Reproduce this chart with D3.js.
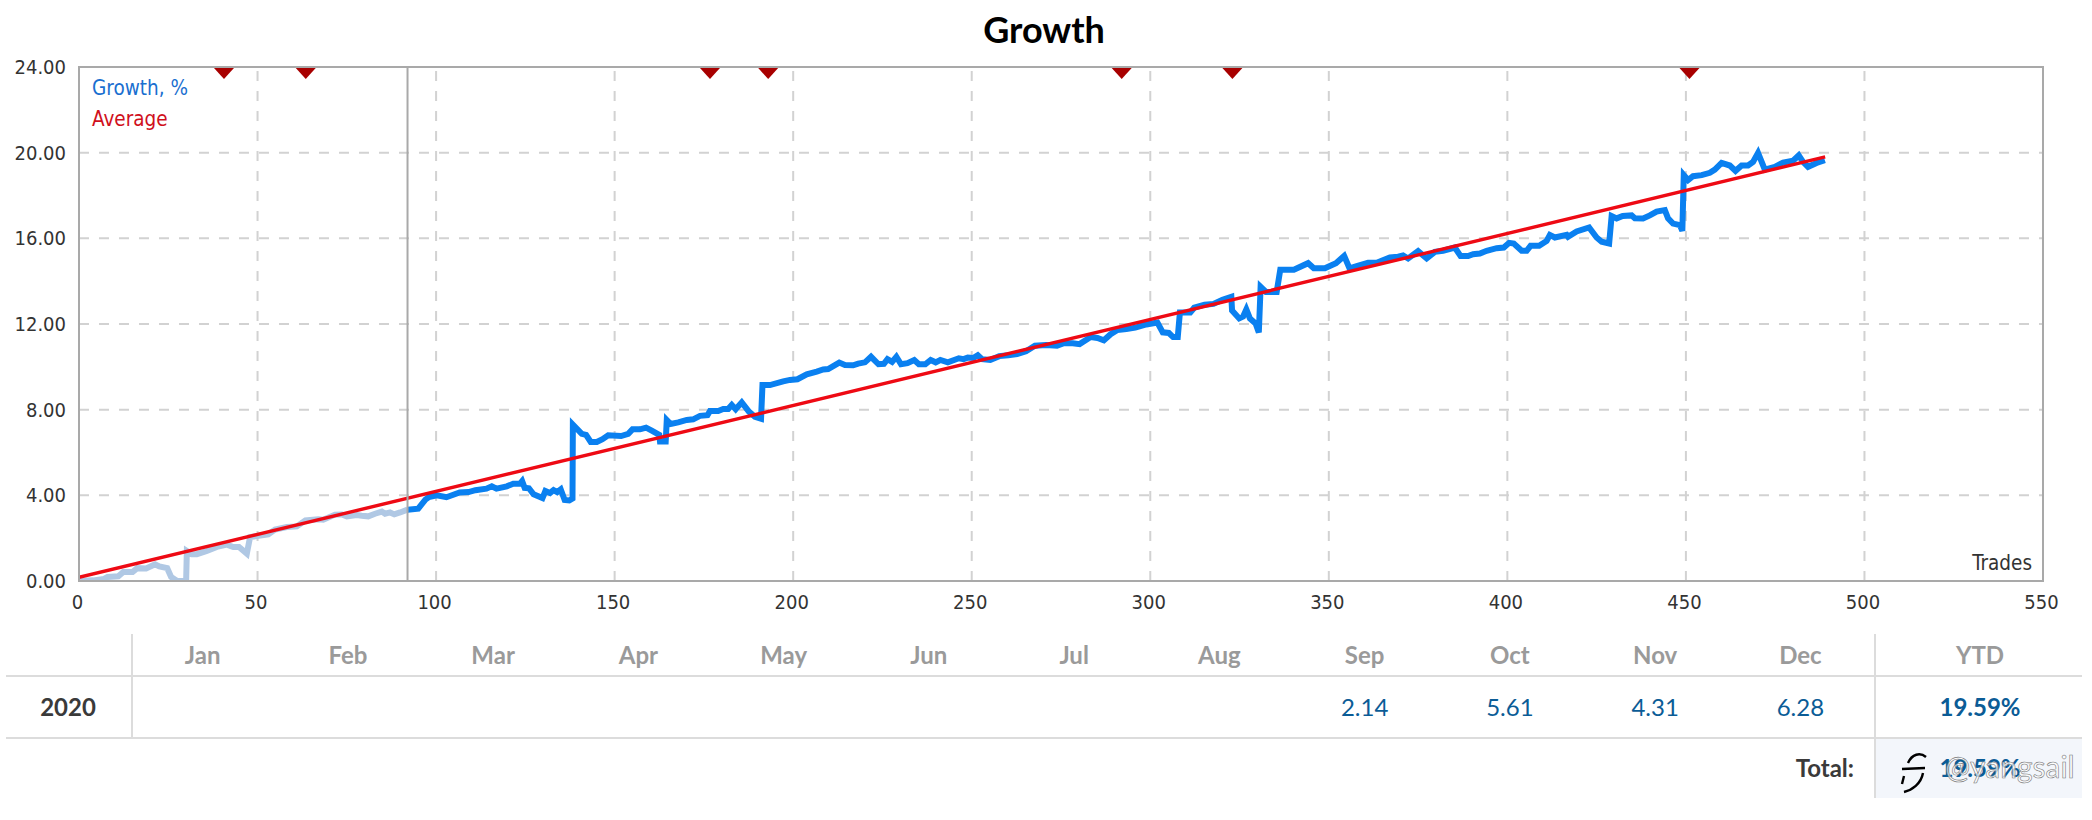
<!DOCTYPE html>
<html>
<head>
<meta charset="utf-8">
<script src="https://cdn.jsdelivr.net/npm/d3@7"></script>
<style>
  body { margin: 0; background: #fff; }
  text { font-family: "DejaVu Sans Condensed", "DejaVu Sans", sans-serif; font-stretch: condensed; }
  .tbl { font-family: Lato, sans-serif; font-stretch: normal; }
</style>
</head>
<body>
<svg id="grafico" width="2092" height="820"></svg>
<script>
// values
const growthTrades = [0,4,7,8,11,12.4,15,16.3,18.8,21.3,22.5,24.7,25.8,27.5,30,30.2,31.6,33,35.8,38.6,41.4,43.2,44.8,47,47.9,49.8,53,54.9,58.2,61,63.4,67,68.4,71.7,73.6,75,77.8,79.2,81,82.9,84.8,85.7,87.1,88.3,89.9,92,
  95,97,98,100.2,102.9,106.6,109.1,111,114.1,115.6,116.9,119.8,121.6,123.5,124.1,124.8,126,127.3,129.8,130.6,131.9,132.9,133.9,134.9,136,137.3,138.2,138.3,140.8,142,143.3,145,146.6,148.2,151.8,153.8,155,157.1,158.8,160.4,162.5,162.7,164.3,164.6,165.7,167.8,170.2,172,173.9,176,176.7,179,180.4,181.8,182.8,183.9,185.6,187.6,189.3,191,191.4,193.5,197.2,199.1,201.2,203.8,206.6,208.4,209.8,212.9,214.5,216.8,218.2,220.1,
  221.8,223.9,225.4,226.4,227.7,228.9,230.2,232,233.9,235.2,237,238.5,239.9,241.2,243.3,246.4,247.7,248.9,250.4,251.7,252.9,255.2,257.7,260.2,262.7,265.2,267.7,270.8,273.9,275.8,278.3,280.2,283.3,285.2,287,288.9,290.8,293.3,295.8,298.9,302,303.5,305.2,306.4,307.7,308.3,311.2,312.3,315.2,317.7,320.2,322.7,322.9,324.9,326,326.9,327.9,329.5,330.4,330.9,332.4,335.4,336.4,340.2,344.2,345.8,348.9,352,354.3,355.8,357.8,361,363.4,367.1,369.4,370.8,372.2,375,377.4,379.7,382,385.3,386.9,389,390.4,392.3,394.2,397,399,400.5,401.8,404,405.4,406.5,408.9,411,411.9,413.3,416.6,417,419.4,422.9,425,426.4,428.5,429.2,430.6,432.3,434.8,435.7,438,439.9,441.8,444.1,445,446.4,448.3,449,449.4,450.6,452,454.4,456.7,458.1,460,462.3,463.9,465.6,467.4,468.8,470.2,472.1,474.9,477.2,480,481.6,482.8,484.2,486.6,488.9];
const growthValues = [0,0.03,0.1,0.19,0.22,0.42,0.42,0.6,0.58,0.78,0.68,0.6,0.19,0,0,1.4,1.25,1.25,1.4,1.59,1.7,1.59,1.59,1.28,2.05,2.1,2.18,2.4,2.52,2.55,2.83,2.88,2.86,3.1,3.11,3.02,3.08,3.05,3.02,3.14,3.24,3.14,3.2,3.11,3.2,3.33,
  3.38,3.8,3.92,4,3.91,4.13,4.15,4.24,4.31,4.42,4.31,4.42,4.54,4.54,4.66,4.35,4.33,4.05,3.87,4.2,4.11,4.24,4.15,4.28,3.78,3.76,3.85,7.3,6.87,6.82,6.49,6.49,6.62,6.8,6.77,6.87,7.08,7.08,7.16,7.02,6.82,6.51,6.51,7.52,7.33,7.41,7.52,7.55,7.71,7.74,7.94,7.94,8.03,8.03,8.22,8.02,8.34,7.91,7.67,7.58,9.15,9.15,9.32,9.39,9.42,9.65,9.78,9.88,9.9,10.2,10.09,10.07,10.15,10.21,
  10.47,10.12,10.14,10.36,10.23,10.47,10.12,10.17,10.32,10.12,10.12,10.32,10.21,10.32,10.21,10.4,10.36,10.43,10.41,10.54,10.36,10.32,10.5,10.54,10.6,10.73,10.99,11.02,10.99,11.1,11.1,11.06,11.39,11.35,11.24,11.52,11.72,11.76,11.83,11.98,12.07,11.61,11.58,11.39,11.39,12.54,12.54,12.76,12.9,12.94,13.13,13.27,12.63,12.26,12.35,12.68,12.26,12.02,11.61,13.74,13.5,13.5,14.53,14.53,14.84,14.6,14.6,14.84,15.18,14.6,14.7,14.86,14.86,15.11,15.14,15.2,15.06,15.4,15.06,15.37,15.42,15.57,15.17,15.17,15.26,15.29,15.42,15.54,15.57,15.79,15.76,15.42,15.42,15.65,15.65,15.88,16.16,16.04,16.16,16.07,16.32,16.51,16.04,15.84,15.76,17.04,16.93,17.04,17.07,16.94,16.93,17.07,17.25,17.32,16.93,16.69,16.62,16.35,18.95,18.72,18.9,18.95,19.06,19.21,19.52,19.4,19.15,19.4,19.4,19.57,19.99,19.21,19.34,19.54,19.62,19.87,19.57,19.34,19.52,19.65];
const averageTrades = [0, 489];
const averageValues = [0.17, 19.8];
const markerTrades = [40.6, 63.5, 176.7, 193, 292, 323, 451];
const splitTrade = 92;
const xTicks = [0, 50, 100, 150, 200, 250, 300, 350, 400, 450, 500, 550];
const yTicks = [0, 4, 8, 12, 16, 20, 24];
const months = ["Jan","Feb","Mar","Apr","May","Jun","Jul","Aug","Sep","Oct","Nov","Dec"];
const monthValues = ["","","","","","","","","2.14","5.61","4.31","6.28"];
const year = "2020";
const ytd = "19.59%";
const total = "19.59%";

const svg = d3.select("#grafico");
const plotLeft = 79, plotRight = 2043, plotTop = 67, plotBottom = 581;

const x = d3.scaleLinear().domain([0, 550]).range([plotLeft, plotRight]);
const y = d3.scaleLinear().domain([0, 24]).range([plotBottom, plotTop]);

svg.append("text").text("Growth")
  .attr("class", "tbl")
  .attr("x", 1044).attr("y", 43)
  .attr("text-anchor", "middle")
  .attr("font-size", 36).attr("font-weight", "bold").attr("fill", "#000");

// grid
svg.append("g").selectAll("line").data(yTicks.filter(d => d > 0 && d < 24)).join("line")
  .attr("x1", plotLeft).attr("x2", plotRight)
  .attr("y1", d => y(d)).attr("y2", d => y(d))
  .attr("stroke", "#d2d2d2").attr("stroke-width", 2).attr("stroke-dasharray", "10,10");
svg.append("g").selectAll("line").data(xTicks.filter(d => d > 0 && d < 550)).join("line")
  .attr("x1", d => x(d)).attr("x2", d => x(d))
  .attr("y1", plotBottom).attr("y2", plotTop)
  .attr("stroke", "#d2d2d2").attr("stroke-width", 2).attr("stroke-dasharray", "10,10");

// axes
const xAxis = svg.append("g").attr("transform", `translate(0,${plotBottom})`)
  .call(d3.axisBottom(x).tickValues(xTicks).tickSize(0).tickPadding(14).tickFormat(d3.format("d")));
const yAxis = svg.append("g").attr("transform", `translate(${plotLeft},0)`)
  .call(d3.axisLeft(y).tickValues(yTicks).tickSize(0).tickPadding(13).tickFormat(d3.format(".2f")));
[xAxis, yAxis].forEach(a => {
  a.select(".domain").remove();
  a.selectAll("text").attr("font-size", 20).attr("fill", "#333")
    .style("font-family", '"DejaVu Sans Condensed", "DejaVu Sans", sans-serif');
});
xAxis.selectAll("text").attr("dx", -2);

// lines
svg.append("clipPath").attr("id", "plot").append("rect")
  .attr("x", plotLeft).attr("y", plotTop).attr("width", plotRight - plotLeft).attr("height", plotBottom - plotTop);

const growth = growthTrades.map((t, i) => ({ t, v: growthValues[i] }));
const line = d3.line().x(d => x(d.t)).y(d => y(d.v));
const plot = svg.append("g").attr("clip-path", "url(#plot)");

plot.append("path").attr("d", line(growth.filter(d => d.t <= splitTrade)))
  .attr("fill", "none").attr("stroke", "#b0c8e4").attr("stroke-width", 6);
plot.append("path").attr("d", line(growth.filter(d => d.t >= splitTrade)))
  .attr("fill", "none").attr("stroke", "#0a80f0").attr("stroke-width", 6);

svg.append("line")
  .attr("x1", x(splitTrade)).attr("x2", x(splitTrade))
  .attr("y1", plotTop).attr("y2", plotBottom)
  .attr("stroke", "#a9a9a9").attr("stroke-width", 2);

svg.append("rect")
  .attr("x", plotLeft).attr("y", plotTop).attr("width", plotRight - plotLeft).attr("height", plotBottom - plotTop)
  .attr("fill", "none").attr("stroke", "#a9a9a9").attr("stroke-width", 2);

plot.append("path")
  .attr("d", line(averageTrades.map((t, i) => ({ t, v: averageValues[i] }))))
  .attr("fill", "none").attr("stroke", "#ee0a14").attr("stroke-width", 3.4);

svg.append("g").selectAll("path").data(markerTrades).join("path")
  .attr("d", "M-10,0L10,0L0,11Z")
  .attr("transform", d => `translate(${x(d)},${plotTop + 1})`)
  .attr("fill", "#a80000");

// legend
svg.append("text").text("Growth, %").attr("x", 92).attr("y", 95)
  .attr("font-size", 20.5).attr("fill", "#1a6fd0");
svg.append("text").text("Average").attr("x", 92).attr("y", 126)
  .attr("font-size", 20.5).attr("fill", "#d0101c");
svg.append("text").text("Trades").attr("x", 2032).attr("y", 570)
  .attr("text-anchor", "end").attr("font-size", 20.5).attr("fill", "#333");

// monthly table
const colX = d3.scaleBand().domain(months).range([132, 1875]);
const colMid = d => colX(d) + colX.bandwidth() / 2;
const tbl = svg.append("g").attr("class", "tbl");

tbl.append("rect").attr("x", 1875).attr("y", 738).attr("width", 207).attr("height", 60).attr("fill", "#f3f6fb");
[676, 738].forEach(ly => {
  tbl.append("line").attr("x1", 6).attr("x2", 2082).attr("y1", ly).attr("y2", ly)
    .attr("stroke", "#dcdcdc").attr("stroke-width", 2);
});
tbl.append("line").attr("x1", 132).attr("x2", 132).attr("y1", 634).attr("y2", 738)
  .attr("stroke", "#dcdcdc").attr("stroke-width", 2);
tbl.append("line").attr("x1", 1875).attr("x2", 1875).attr("y1", 634).attr("y2", 798)
  .attr("stroke", "#dcdcdc").attr("stroke-width", 2);

const cell = (txt, cx, cy, fill, weight, anchor) => tbl.append("text").text(txt)
  .attr("class", "tbl")
  .attr("x", cx).attr("y", cy).attr("dy", "0.36em")
  .attr("text-anchor", anchor || "middle")
  .attr("font-size", 24).attr("font-weight", weight).attr("fill", fill);

months.forEach((m, i) => {
  cell(m, colMid(m) - 2, 655, "#9a9a9a", "bold");
  if (monthValues[i]) cell(monthValues[i], colMid(m) - 2, 707, "#0b5c96", "normal");
});
cell("YTD", 1980, 655, "#9a9a9a", "bold");
cell(year, 68, 707, "#3a3a3a", "bold");
cell(ytd, 1980, 707, "#0b5c96", "bold");
cell("Total:", 1854, 768, "#3a3a3a", "bold", "end");
cell(total, 1980, 768, "#0b5c96", "bold");

// watermark
svg.append("path")
  .attr("d", "M1908,763 C1912,754 1920,752 1926,757 M1902,769 L1925,768 M1923,773 C1921,784 1912,790 1904,792 M1904,776 L1902,784")
  .attr("fill", "none").attr("stroke", "#000").attr("stroke-width", 2.4);
svg.append("text").text("@yangsail")
  .attr("x", 1945).attr("y", 778)
  .attr("font-size", 30).attr("fill", "#fff").attr("fill-opacity", 0.7)
  .attr("stroke", "#777").attr("stroke-width", 0.6)
  .style("font-family", "Lato, sans-serif").style("font-stretch", "normal");
</script>
</body>
</html>
